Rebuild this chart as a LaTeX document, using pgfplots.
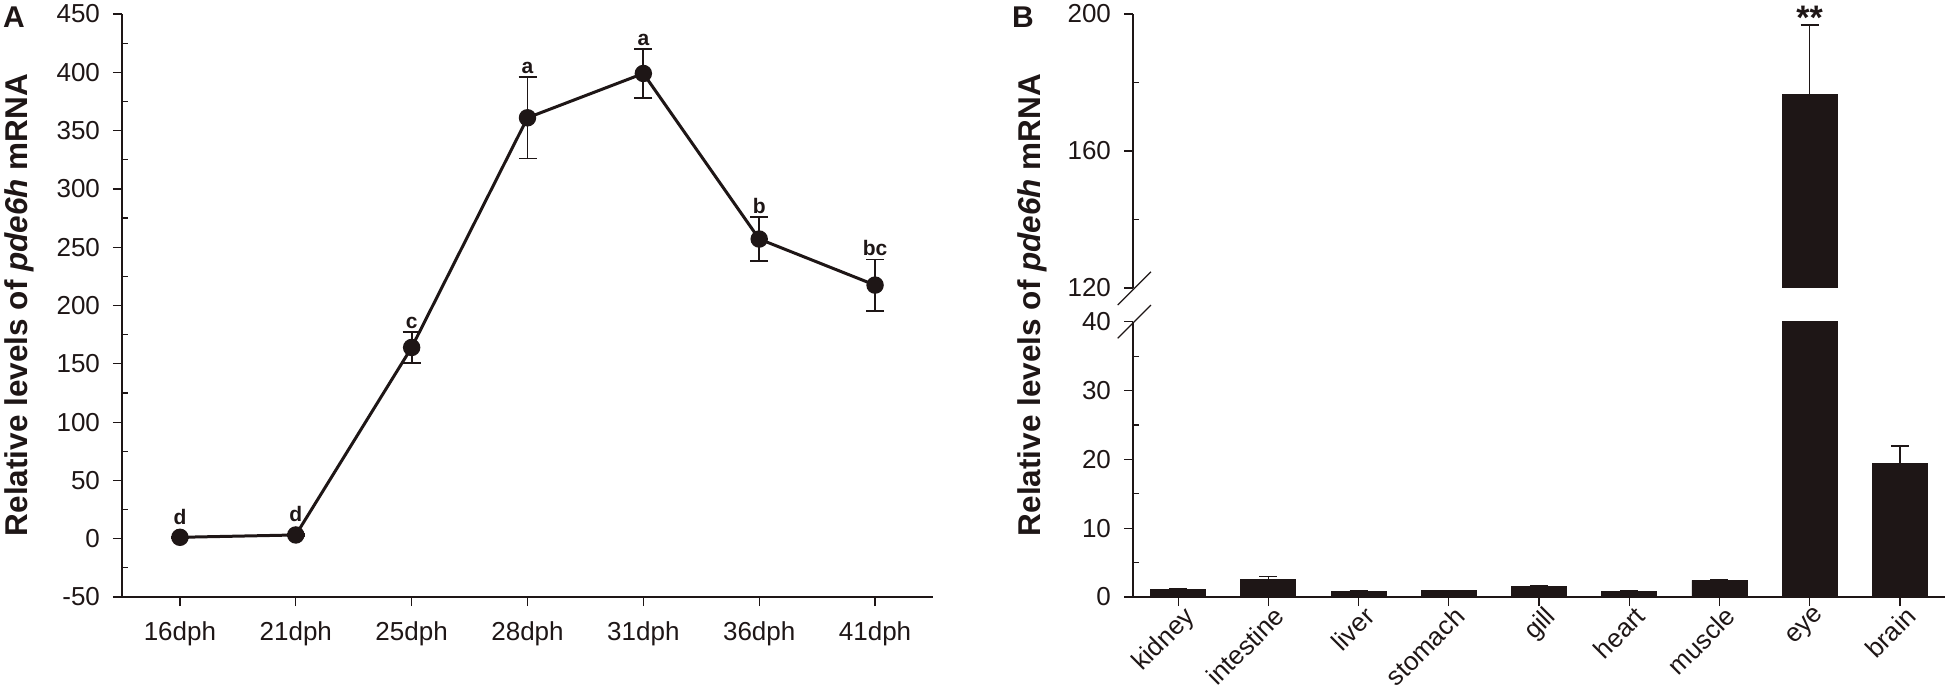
\documentclass[border=0pt]{standalone}
\usepackage{fontspec}
\setmainfont{Liberation Sans}
\usepackage{pgfplots}
\pgfplotsset{compat=1.18}
\usepackage{pgfplotstable}
\definecolor{dk}{RGB}{30,22,22}

\pgfplotstableread{
x y e lab ly
0 1.2 0.5 d 12.6
1 3.2 0.8 d 14.6
2 164 13 c 180.4
3 361 35 a 399.4
4 399 21 a 423.4
5 257 18.6 b 279
6 217.5 22 bc 243
}\timecourse

\pgfplotstableread{
x y e
0 1.07 0.08
1 2.58 0.38
2 0.80 0.12
3 0.90 0.10
4 1.52 0.12
5 0.82 0.12
6 2.40 0.18
7 176.6 20.2
8 19.35 2.6
}\tissue

\pgfplotstableread{
x y e ly lab
7 176.6 20.2 195.5 **
}\eyetab

\pgfplotsset{
  common/.style={
    scale only axis,
    anchor=south west,
    axis line style={line width=1.3pt, dk},
    tick align=outside,
    major tick length=4.5pt,
    minor tick length=-3pt,
    tick style={line width=0.6pt, dk},
    ticklabel style={font=\fontsize{13}{15}\selectfont, text=dk},
    /pgf/number format/assume math mode=true,
  },
  ebar/.style={
    error bars/.cd, y dir=#1, y explicit,
    error bar style={line width=0.9pt, dk},
    error mark options={rotate=90, dk, line width=0.9pt, mark size=4.5pt},
  },
  ebarthin/.style={
    error bars/.cd, y dir=plus, y explicit,
    error bar style={line width=0.6pt, dk},
    error mark options={rotate=90, dk, line width=0.6pt, mark size=4.5pt},
  },
}

\begin{document}
\begin{tikzpicture}
\useasboundingbox (0,0) rectangle (975pt,348.5pt);

% Panel A
\begin{axis}[common,
  at={(61pt,50pt)}, width=405.5pt, height=291.5pt,
  axis lines*=left,
  xmin=-0.5, xmax=6.5, ymin=-50, ymax=450,
  xtick={0,...,6},
  xticklabels={16dph,21dph,25dph,28dph,31dph,36dph,41dph},
  ytick={-50,0,50,...,450}, minor y tick num=1,
  xticklabel style={yshift=-4.5pt},
  yticklabel style={xshift=-3pt},
]
\addplot[dk, line width=1.5pt, mark=*, mark size=3.6pt,
  mark options={fill=dk, draw=dk, solid}, ebar=both]
  table[x=x, y=y, y error=e] {\timecourse};
\addplot[draw=none, mark=none, nodes near coords, point meta=explicit symbolic,
  nodes near coords style={anchor=base, inner sep=0pt,
    font=\bfseries\fontsize{10.5}{12}\selectfont, text=dk}]
  table[x=x, y=ly, meta=lab] {\timecourse};
\end{axis}

% Panel B upper
\begin{axis}[common, name=bu,
  at={(566.5pt,204.5pt)}, width=406pt, height=137pt,
  axis y line*=left, axis x line=none,
  xmin=-0.5, xmax=8.5, ymin=120, ymax=200,
  ytick={120,160,200}, minor y tick num=1,
  yticklabel style={xshift=-3pt},
  clip mode=individual,
]
\addplot[ybar, bar width=27.5pt, fill=dk, draw=dk, ebarthin]
  table[x=x, y=y, y error=e] {\eyetab};
\addplot[draw=none, mark=none, nodes near coords, point meta=explicit symbolic,
  nodes near coords style={anchor=base, inner sep=0pt,
    font=\bfseries\fontsize{17}{20}\selectfont, text=dk}]
  table[x=x, y=ly, meta=lab] {\eyetab};
\end{axis}

% Panel B lower
\begin{axis}[common, name=bl,
  at={(566.5pt,50pt)}, width=406pt, height=137.65pt,
  axis lines*=left,
  xmin=-0.5, xmax=8.5, ymin=0, ymax=40,
  xtick={0,...,8},
  xticklabels={kidney,intestine,liver,stomach,gill,heart,muscle,eye,brain},
  xticklabel style={rotate=45, anchor=north east, inner sep=0pt, xshift=2pt, yshift=-1pt},
  ytick={0,10,20,30,40}, minor y tick num=1,
  yticklabel style={xshift=-3pt},
]
\addplot[ybar, bar width=27.5pt, fill=dk, draw=dk, ebarthin]
  table[x=x, y=y, y error=e] {\tissue};
\end{axis}

% axis break marks
\draw[dk, line width=0.6pt] (bu.south west) ++(-7.65pt,-8.5pt) -- ++(16.6pt,16.6pt);
\draw[dk, line width=0.6pt] (bl.north west) ++(-7.65pt,-8.3pt) -- ++(16.6pt,16.6pt);

% axis titles and panel letters
\node[rotate=90, anchor=base, text=dk, font=\bfseries\fontsize{15.75}{18}\selectfont]
  at (13.5pt,196pt) {Relative levels of \textit{pde6h} mRNA};
\node[rotate=90, anchor=base, text=dk, font=\bfseries\fontsize{15.75}{18}\selectfont]
  at (520pt,196pt) {Relative levels of \textit{pde6h} mRNA};
\node[text=dk, font=\bfseries\fontsize{15}{17}\selectfont] at (7pt,340pt) {A};
\node[text=dk, font=\bfseries\fontsize{15}{17}\selectfont] at (511.5pt,340pt) {B};
\end{tikzpicture}
\end{document}
